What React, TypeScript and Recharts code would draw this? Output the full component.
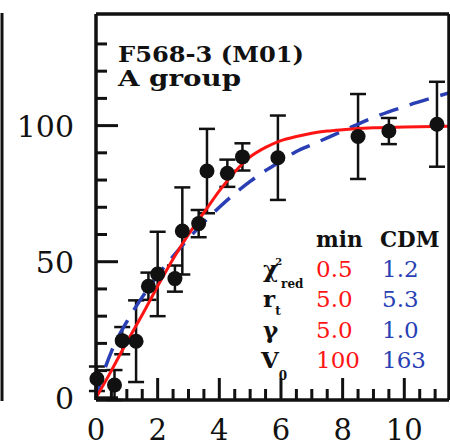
import React from 'react'
import { ComposedChart, XAxis, YAxis, Line, Scatter, ErrorBar } from 'recharts'

// observed rotation curve (radius, velocity, error)
const OBS_R = [0.03, 0.6, 0.85, 1.3, 1.7, 2.0, 2.56, 2.8, 3.33, 3.6, 4.26, 4.75, 5.9, 8.5, 9.5, 11.06]
const OBS_V = [7, 4.7, 21, 20.8, 41, 45.5, 43.8, 61.3, 64, 83.3, 82.5, 88.5, 88.2, 96, 98, 100.5]
const OBS_ERR = [4.5, 5.5, 5, 15, 5, 15.5, 4.8, 16, 5, 15.5, 5, 5, 15.5, 15.6, 4.8, 15.6]

// best fit ("min") model, red
const MIN_R = [0, 0.5, 1, 1.5, 2, 2.5, 3, 3.5, 4, 4.5, 5, 5.5, 6, 6.5, 7, 7.5, 8, 9, 10, 11.45]
const MIN_V = [0, 10, 20.5, 30.5, 41, 51, 60, 68, 76, 83, 88.5, 92, 94.5, 96, 97.2, 98, 98.5, 99.2, 99.5, 99.8]

// CDM model, blue dashed
const CDM_R = [0, 0.25, 0.5, 1, 1.5, 2, 2.5, 3, 3.5, 4, 4.5, 5, 5.5, 6, 6.5, 7, 7.5, 8, 9, 10, 11, 11.45]
const CDM_V = [0, 9.5, 17, 28, 37, 45, 52, 58.5, 64.5, 70, 75, 79.5, 83.5, 87, 90.5, 93, 95.5, 98, 103, 107, 110.5, 112]

const X_TICKS = [0, 0.5, 1, 1.5, 2, 2.5, 3, 3.5, 4, 4.5, 5, 5.5, 6, 6.5, 7, 7.5, 8, 8.5, 9, 9.5, 10, 10.5, 11]
const X_LABELS = [0, 2, 4, 6, 8, 10]
const Y_TICKS = [0, 10, 20, 30, 40, 50, 60, 70, 80, 90, 100, 110, 120, 130]
const Y_LABELS = [0, 50, 100]

const MIN_PARAMS = ['0.5', '5.0', '5.0', '100']
const CDM_PARAMS = ['1.2', '5.3', '1.0', '163']

const INK = '#111'
const RED = '#ff1414'
const BLUE = '#2a3fb4'
const SERIF = '"DejaVu Serif", serif'

const obs = OBS_R.map((x, i) => ({ x, v: OBS_V[i], err: OBS_ERR[i] }))
const minCurve = MIN_R.map((x, i) => ({ x, v: MIN_V[i] }))
const cdmCurve = CDM_R.map((x, i) => ({ x, v: CDM_V[i] }))

const tickLen = (major: boolean) => (major ? 22 : 11)

// with tickSize/tickMargin 0 the tick x,y sit right on the axis line
function BottomTick(p: any) {
  const major = X_LABELS.includes(p.payload.value)
  return (
    <g>
      <line x1={p.x} y1={p.y} x2={p.x} y2={p.y - tickLen(major)} stroke={INK} strokeWidth={3} />
      {major && (
        <text x={p.x} y={p.y + 40} textAnchor="middle" fontFamily={SERIF} fontSize={29} fill={INK}>
          {p.payload.value}
        </text>
      )}
    </g>
  )
}

function TopTick(p: any) {
  const major = X_LABELS.includes(p.payload.value)
  return <line x1={p.x} y1={p.y} x2={p.x} y2={p.y + tickLen(major)} stroke={INK} strokeWidth={3} />
}

function LeftTick(p: any) {
  const major = Y_LABELS.includes(p.payload.value)
  return (
    <g>
      <line x1={p.x} y1={p.y} x2={p.x + tickLen(major)} y2={p.y} stroke={INK} strokeWidth={3} />
      {major && (
        <text x={p.x - 22} y={p.y + 11} textAnchor="end" fontFamily={SERIF} fontSize={30} fill={INK}>
          {p.payload.value}
        </text>
      )}
    </g>
  )
}

function RightTick(p: any) {
  const major = Y_LABELS.includes(p.payload.value)
  return <line x1={p.x} y1={p.y} x2={p.x - tickLen(major)} y2={p.y} stroke={INK} strokeWidth={3} />
}

const Dot = (p: any) => <circle cx={p.cx} cy={p.cy} r={7.5} fill={INK} />

function Labels() {
  const rows = [277, 307, 338, 367.5]
  return (
    <svg width={450} height={445} style={{ position: 'absolute', left: 0, top: 0, pointerEvents: 'none' }}>
      {/* edge of the neighbouring panel */}
      <line x1={2} y1={13} x2={2} y2={401} stroke={INK} strokeWidth={3} />
      <g fontFamily={SERIF} fontWeight="bold" fill={INK}>
        <text x={118} y={62} fontSize={22} textLength={186} lengthAdjust="spacingAndGlyphs">F568-3 (M01)</text>
        <text x={118} y={86} fontSize={22} textLength={123} lengthAdjust="spacingAndGlyphs">A group</text>
        <text x={316} y={247} fontSize={21.5}>min</text>
        <text x={380} y={247} fontSize={21.5}>CDM</text>
        <text x={263} y={rows[0]} fontSize={23}>
          χ<tspan fontSize={10} dx={-3} dy={-12}>2</tspan>
          <tspan fontSize={12} dx={-1} dy={23}>red</tspan>
        </text>
        <text x={263} y={rows[1]} fontSize={23}>
          r<tspan fontSize={12} dy={8}>t</tspan>
        </text>
        <text x={263} y={rows[2]} fontSize={23}>γ</text>
        <text x={261} y={rows[3]} fontSize={23}>
          V<tspan fontSize={12} dy={12}>0</tspan>
        </text>
      </g>
      <g fontFamily={SERIF} fontSize={23}>
        {MIN_PARAMS.map((s, i) => (
          <text key={'m' + i} x={316} y={rows[i]} fill={RED}>{s}</text>
        ))}
        {CDM_PARAMS.map((s, i) => (
          <text key={'c' + i} x={382} y={rows[i]} fill={BLUE}>{s}</text>
        ))}
      </g>
    </svg>
  )
}

export default function App() {
  const axisLine = { stroke: INK, strokeWidth: 3.5 }
  return (
    <div style={{ position: 'absolute', left: 0, top: 0, width: 450, height: 445, background: '#fff' }}>
      <ComposedChart width={450} height={445} margin={{ top: 4, right: 0, bottom: 25, left: 76 }}>
        <XAxis xAxisId="b" type="number" dataKey="x" domain={[0, 11.45]} ticks={X_TICKS} interval={0}
          height={20} tickSize={0} tickMargin={0} tickLine={false} axisLine={axisLine} tick={<BottomTick />} />
        <XAxis xAxisId="t" orientation="top" type="number" dataKey="x" domain={[0, 11.45]} ticks={X_TICKS} interval={0}
          height={10} tickSize={0} tickMargin={0} tickLine={false} axisLine={axisLine} tick={<TopTick />} />
        <YAxis yAxisId="l" type="number" dataKey="v" domain={[0, 141]} ticks={Y_TICKS} interval={0}
          width={20} tickSize={0} tickMargin={0} tickLine={false} axisLine={axisLine} tick={<LeftTick />} />
        <YAxis yAxisId="r" orientation="right" type="number" dataKey="v" domain={[0, 141]} ticks={Y_TICKS} interval={0}
          width={1} tickSize={0} tickMargin={0} tickLine={false} axisLine={axisLine} tick={<RightTick />} />
        <Scatter xAxisId="b" yAxisId="l" data={obs} dataKey="v" shape={Dot} isAnimationActive={false}>
          <ErrorBar dataKey="err" direction="y" width={8} stroke={INK} strokeWidth={2.5} />
        </Scatter>
        <Line xAxisId="b" yAxisId="l" data={cdmCurve} dataKey="v" type="monotone" stroke={BLUE} strokeWidth={3.5}
          strokeDasharray="20 12" dot={false} activeDot={false} isAnimationActive={false} />
        <Line xAxisId="b" yAxisId="l" data={minCurve} dataKey="v" type="monotone" stroke={RED} strokeWidth={3}
          dot={false} activeDot={false} isAnimationActive={false} />
      </ComposedChart>
      <Labels />
    </div>
  )
}
